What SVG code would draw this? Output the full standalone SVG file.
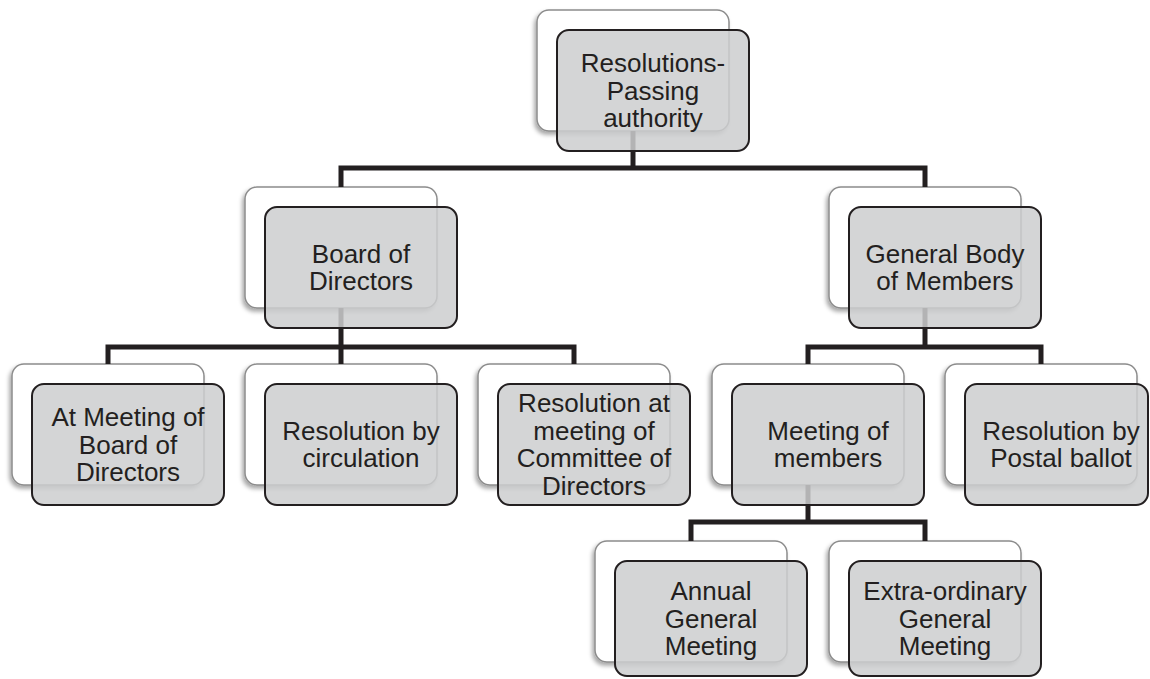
<svg xmlns="http://www.w3.org/2000/svg" width="1150" height="679" viewBox="0 0 1150 679">
<defs>
<filter id="sh" x="-10%" y="-10%" width="120%" height="125%">
<feDropShadow dx="-2" dy="3" stdDeviation="2" flood-color="#000" flood-opacity="0.35"/>
</filter>
</defs>
<style>
.back{fill:#ffffff;stroke:#8c8c8c;stroke-width:1.5;filter:url(#sh)}
.front{fill:#cdcecf;fill-opacity:0.85;stroke:#231f20;stroke-width:2}
.t{font-family:"Liberation Sans",Arial,sans-serif;font-size:26px;fill:#231f20;text-anchor:middle}
.c{fill:none;stroke:#231f20;stroke-width:5;stroke-linejoin:miter;stroke-linecap:butt}
</style>
<rect width="1150" height="679" fill="#ffffff"/>
<g id="backs">
<rect class="back" x="537" y="10" width="192" height="121" rx="12"/>
<rect class="back" x="245" y="187" width="192" height="121" rx="12"/>
<rect class="back" x="829" y="187" width="192" height="121" rx="12"/>
<rect class="back" x="12" y="364" width="192" height="121" rx="12"/>
<rect class="back" x="245" y="364" width="192" height="121" rx="12"/>
<rect class="back" x="478" y="364" width="192" height="121" rx="12"/>
<rect class="back" x="712" y="364" width="192" height="121" rx="12"/>
<rect class="back" x="945" y="364" width="192" height="121" rx="12"/>
<rect class="back" x="595" y="541" width="192" height="121" rx="12"/>
<rect class="back" x="829" y="541" width="192" height="121" rx="12"/>
</g>
<g id="connectors">
<path class="c" d="M633 131 V168"/>
<path class="c" d="M341 187 V168 H925 V187"/>
<path class="c" d="M341 308 V347"/>
<path class="c" d="M108 364 V347 H574 V364"/>
<path class="c" d="M341 347 V364"/>
<path class="c" d="M925 308 V347"/>
<path class="c" d="M808 364 V347 H1041 V364"/>
<path class="c" d="M808 485 V522"/>
<path class="c" d="M691 541 V522 H925 V541"/>
</g>
<g id="root">
<rect class="front" x="557" y="30" width="192" height="121" rx="12"/>
<text class="t" x="653" y="72">Resolutions-</text>
<text class="t" x="653" y="99.5">Passing</text>
<text class="t" x="653" y="127">authority</text>
</g>
<g id="board">
<rect class="front" x="265" y="207" width="192" height="121" rx="12"/>
<text class="t" x="361" y="262.75">Board of</text>
<text class="t" x="361" y="290.25">Directors</text>
</g>
<g id="general">
<rect class="front" x="849" y="207" width="192" height="121" rx="12"/>
<text class="t" x="945" y="262.75">General Body</text>
<text class="t" x="945" y="290.25">of Members</text>
</g>
<g id="atmeeting">
<rect class="front" x="32" y="384" width="192" height="121" rx="12"/>
<text class="t" x="128" y="426">At Meeting of</text>
<text class="t" x="128" y="453.5">Board of</text>
<text class="t" x="128" y="481">Directors</text>
</g>
<g id="circulation">
<rect class="front" x="265" y="384" width="192" height="121" rx="12"/>
<text class="t" x="361" y="439.75">Resolution by</text>
<text class="t" x="361" y="467.25">circulation</text>
</g>
<g id="committee">
<rect class="front" x="498" y="384" width="192" height="121" rx="12"/>
<text class="t" x="594" y="412.25">Resolution at</text>
<text class="t" x="594" y="439.75">meeting of</text>
<text class="t" x="594" y="467.25">Committee of</text>
<text class="t" x="594" y="494.75">Directors</text>
</g>
<g id="members">
<rect class="front" x="732" y="384" width="192" height="121" rx="12"/>
<text class="t" x="828" y="439.75">Meeting of</text>
<text class="t" x="828" y="467.25">members</text>
</g>
<g id="postal">
<rect class="front" x="965" y="384" width="183" height="121" rx="12"/>
<text class="t" x="1061" y="439.75">Resolution by</text>
<text class="t" x="1061" y="467.25">Postal ballot</text>
</g>
<g id="agm">
<rect class="front" x="615" y="561" width="192" height="115" rx="12"/>
<text class="t" x="711" y="600">Annual</text>
<text class="t" x="711" y="627.5">General</text>
<text class="t" x="711" y="655">Meeting</text>
</g>
<g id="egm">
<rect class="front" x="849" y="561" width="192" height="115" rx="12"/>
<text class="t" x="945" y="600">Extra-ordinary</text>
<text class="t" x="945" y="627.5">General</text>
<text class="t" x="945" y="655">Meeting</text>
</g>
</svg>
